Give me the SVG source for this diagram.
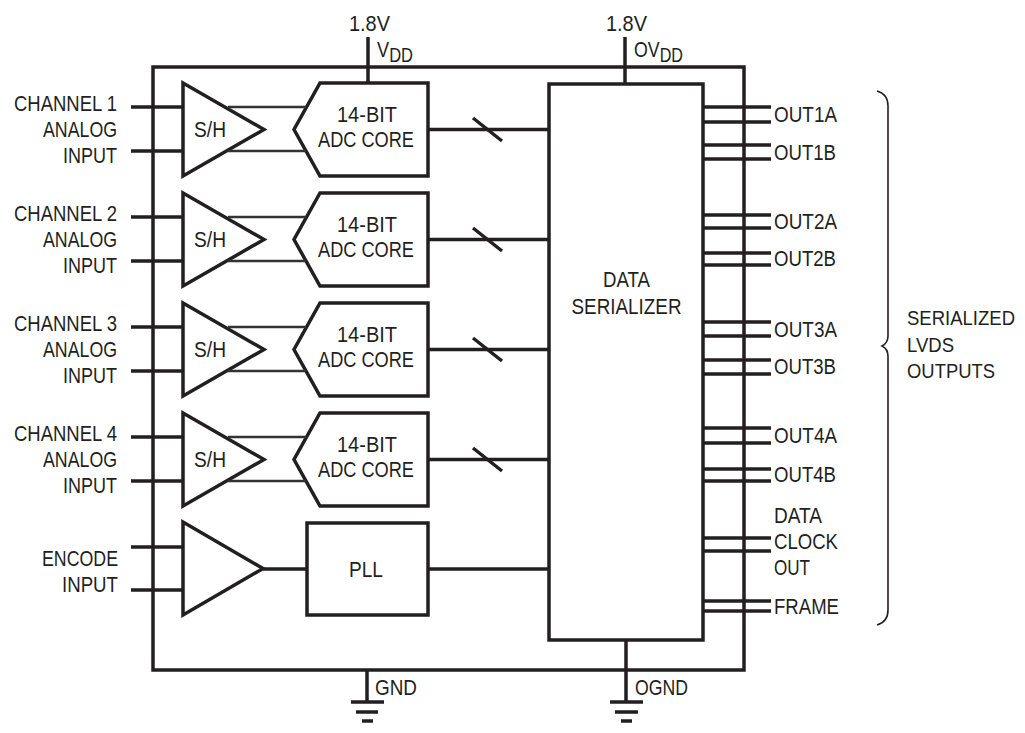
<svg xmlns="http://www.w3.org/2000/svg" width="1025" height="733" viewBox="0 0 1025 733">
<style>
.s{fill:none;stroke:#231f20;stroke-width:3.5;stroke-linejoin:miter}
.w{fill:none;stroke:#231f20;stroke-width:3.5}
.thin{fill:none;stroke:#333;stroke-width:2.5}
.b{fill:none;stroke:#231f20;stroke-width:1.6}
text{font-family:"Liberation Sans",Arial,sans-serif;font-size:22px;fill:#231f20}
.e{text-anchor:end}
.m{text-anchor:middle}
.sub{font-size:20px}
.br{font-size:20px}
</style>
<rect width="1025" height="733" fill="#fff"/>
<g id="chip"><rect class="s" x="153" y="67" width="591" height="603"/></g>
<g id="supplies">
<text x="349" y="31" textLength="41" lengthAdjust="spacingAndGlyphs">1.8V</text>
<text x="377" y="57" textLength="36" lengthAdjust="spacingAndGlyphs">V<tspan class="sub" dy="5">DD</tspan></text>
<text x="606" y="31" textLength="41" lengthAdjust="spacingAndGlyphs">1.8V</text>
<text x="634" y="57" textLength="49" lengthAdjust="spacingAndGlyphs">OV<tspan class="sub" dy="5">DD</tspan></text>
</g>
<g id="grounds">
<text x="375" y="695" textLength="42" lengthAdjust="spacingAndGlyphs">GND</text>
<text x="635" y="695" textLength="53" lengthAdjust="spacingAndGlyphs">OGND</text>
<path class="w" d="M351,702H384M356,712H378M362,721H373M610,702H643M615,712H638M621,721H632"/>
</g>
<g id="ch1">
<text class="e" x="117" y="111" textLength="103" lengthAdjust="spacingAndGlyphs">CHANNEL 1</text>
<text class="e" x="117" y="137" textLength="74" lengthAdjust="spacingAndGlyphs">ANALOG</text>
<text class="e" x="117" y="163" textLength="54" lengthAdjust="spacingAndGlyphs">INPUT</text>
</g>
<g id="ch2">
<text class="e" x="117" y="221" textLength="103" lengthAdjust="spacingAndGlyphs">CHANNEL 2</text>
<text class="e" x="117" y="247" textLength="74" lengthAdjust="spacingAndGlyphs">ANALOG</text>
<text class="e" x="117" y="273" textLength="54" lengthAdjust="spacingAndGlyphs">INPUT</text>
</g>
<g id="ch3">
<text class="e" x="117" y="331" textLength="103" lengthAdjust="spacingAndGlyphs">CHANNEL 3</text>
<text class="e" x="117" y="357" textLength="74" lengthAdjust="spacingAndGlyphs">ANALOG</text>
<text class="e" x="117" y="383" textLength="54" lengthAdjust="spacingAndGlyphs">INPUT</text>
</g>
<g id="ch4">
<text class="e" x="117" y="441" textLength="103" lengthAdjust="spacingAndGlyphs">CHANNEL 4</text>
<text class="e" x="117" y="467" textLength="74" lengthAdjust="spacingAndGlyphs">ANALOG</text>
<text class="e" x="117" y="493" textLength="54" lengthAdjust="spacingAndGlyphs">INPUT</text>
</g>
<g id="encode-label">
<text class="e" x="118" y="566" textLength="76" lengthAdjust="spacingAndGlyphs">ENCODE</text>
<text class="e" x="118" y="592" textLength="56" lengthAdjust="spacingAndGlyphs">INPUT</text>
</g>
<g id="sh1"><path class="s" d="M183,83V176L264,129.5Z"/><text class="m" x="210" y="137" textLength="32" lengthAdjust="spacingAndGlyphs">S/H</text></g>
<g id="sh2"><path class="s" d="M183,193V286L264,239.5Z"/><text class="m" x="210" y="247" textLength="32" lengthAdjust="spacingAndGlyphs">S/H</text></g>
<g id="sh3"><path class="s" d="M183,303V396L264,349.5Z"/><text class="m" x="210" y="357" textLength="32" lengthAdjust="spacingAndGlyphs">S/H</text></g>
<g id="sh4"><path class="s" d="M183,413V506L264,459.5Z"/><text class="m" x="210" y="467" textLength="32" lengthAdjust="spacingAndGlyphs">S/H</text></g>
<g id="adc1"><path class="s" d="M320,83H428V176H320L294,129.5Z"/><text class="m" x="367" y="122" textLength="60" lengthAdjust="spacingAndGlyphs">14-BIT</text><text class="m" x="366" y="147" textLength="96" lengthAdjust="spacingAndGlyphs">ADC CORE</text></g>
<g id="adc2"><path class="s" d="M320,193H428V286H320L294,239.5Z"/><text class="m" x="367" y="232" textLength="60" lengthAdjust="spacingAndGlyphs">14-BIT</text><text class="m" x="366" y="257" textLength="96" lengthAdjust="spacingAndGlyphs">ADC CORE</text></g>
<g id="adc3"><path class="s" d="M320,303H428V396H320L294,349.5Z"/><text class="m" x="367" y="342" textLength="60" lengthAdjust="spacingAndGlyphs">14-BIT</text><text class="m" x="366" y="367" textLength="96" lengthAdjust="spacingAndGlyphs">ADC CORE</text></g>
<g id="adc4"><path class="s" d="M320,413H428V506H320L294,459.5Z"/><text class="m" x="367" y="452" textLength="60" lengthAdjust="spacingAndGlyphs">14-BIT</text><text class="m" x="366" y="477" textLength="96" lengthAdjust="spacingAndGlyphs">ADC CORE</text></g>
<g id="enc-buf"><path class="s" d="M183,522V615L263,568.5Z"/></g>
<g id="pll"><rect class="s" x="307" y="523" width="121" height="92"/><text class="m" x="366" y="577" textLength="34" lengthAdjust="spacingAndGlyphs">PLL</text></g>
<g id="serializer"><rect class="s" x="549" y="84" width="154" height="556"/><text class="m" x="626.5" y="287" textLength="47" lengthAdjust="spacingAndGlyphs">DATA</text><text class="m" x="626.5" y="314" textLength="110" lengthAdjust="spacingAndGlyphs">SERIALIZER</text></g>
<g id="outputs">
<text x="774" y="122" textLength="63" lengthAdjust="spacingAndGlyphs">OUT1A</text>
<text x="774" y="160" textLength="62" lengthAdjust="spacingAndGlyphs">OUT1B</text>
<text x="774" y="229" textLength="63" lengthAdjust="spacingAndGlyphs">OUT2A</text>
<text x="774" y="266" textLength="62" lengthAdjust="spacingAndGlyphs">OUT2B</text>
<text x="774" y="337" textLength="63" lengthAdjust="spacingAndGlyphs">OUT3A</text>
<text x="774" y="374" textLength="62" lengthAdjust="spacingAndGlyphs">OUT3B</text>
<text x="774" y="443" textLength="63" lengthAdjust="spacingAndGlyphs">OUT4A</text>
<text x="774" y="482" textLength="62" lengthAdjust="spacingAndGlyphs">OUT4B</text>
<text x="774" y="523" textLength="48" lengthAdjust="spacingAndGlyphs">DATA</text>
<text x="774" y="549" textLength="64" lengthAdjust="spacingAndGlyphs">CLOCK</text>
<text x="774" y="575" textLength="36" lengthAdjust="spacingAndGlyphs">OUT</text>
<text x="774" y="614" textLength="65" lengthAdjust="spacingAndGlyphs">FRAME</text>
</g>
<g id="brace-label">
<path class="b" d="M877,91Q888,94 888,106V336Q888,343 882,346Q888,349 888,356V610Q888,622 877,625"/>
<text class="br" x="907" y="325" textLength="108" lengthAdjust="spacingAndGlyphs">SERIALIZED</text>
<text class="br" x="907" y="352" textLength="47" lengthAdjust="spacingAndGlyphs">LVDS</text>
<text class="br" x="907" y="378" textLength="88" lengthAdjust="spacingAndGlyphs">OUTPUTS</text>
</g>
<g id="connectors">
<path class="w" d="M368,37V83M625,37V84"/>
<path class="w" d="M367,670V702M626,640V702"/>
<path class="w" d="M131,107H183M131,151H183M131,217H183M131,261H183M131,327H183M131,371H183M131,437H183M131,481H183M131,547H183M131,590H183"/>
<path class="thin" d="M228,107H306M228,151H306M228,217H306M228,261H306M228,327H306M228,371H306M228,437H306M228,481H306"/>
<path class="w" d="M428,129.5H549M428,239.5H549M428,349.5H549M428,459.5H549M263,569H307M428,569H549"/>
<path class="w" d="M473,118L502,141M473,228L502,251M473,338L502,361M473,448L502,471"/>
<path class="w" d="M703,107H771M703,122H771M703,145H771M703,159H771M703,215H771M703,228H771M703,253H771M703,265H771M703,322H771M703,336H771M703,360H771M703,374H771M703,428H771M703,443H771M703,469H771M703,481H771M703,538H771M703,551H771M703,601H771M703,611H771"/>
</g>
</svg>
